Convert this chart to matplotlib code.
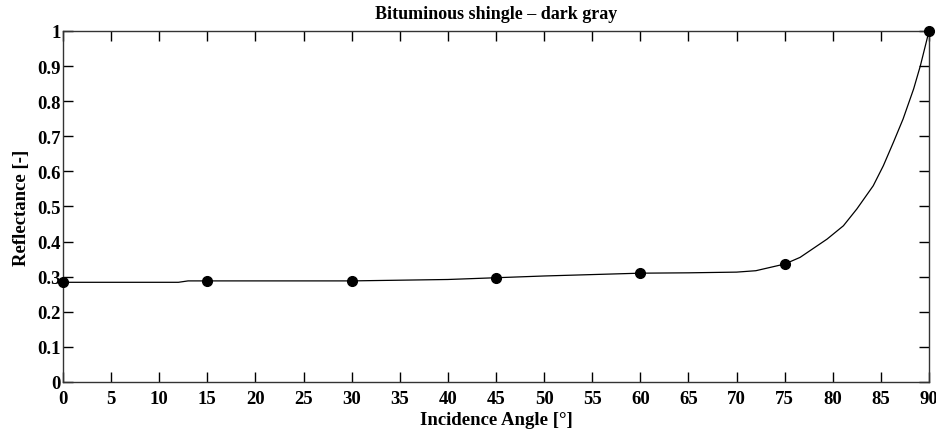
import numpy as np
import matplotlib
matplotlib.use("Agg")
import matplotlib.pyplot as plt

# measured points
angle = [0, 15, 30, 45, 60, 75, 90]
refl = [0.284, 0.288, 0.288, 0.297, 0.310, 0.336, 1.0]

# fitted curve
curve_angle = [0, 12, 13, 30, 35, 40, 45, 50, 55, 60, 65, 70, 72, 75,
               76.6, 79.4, 81.1, 82.5, 84.2, 85.25, 86.3, 87.3, 88.4, 89.1, 90]
curve_refl = [0.284, 0.284, 0.288, 0.288, 0.290, 0.292, 0.297, 0.302, 0.306, 0.310,
              0.311, 0.313, 0.317, 0.336,
              0.355, 0.407, 0.445, 0.493, 0.559, 0.616, 0.683, 0.749, 0.835, 0.901, 1.0]

xticks = np.arange(0, 91, 5)
yticks = np.arange(0, 1.01, 0.1)
ylabels = ['0', '0.1', '0.2', '0.3', '0.4', '0.5', '0.6', '0.7', '0.8', '0.9', '1']

plt.rcParams['font.family'] = 'Liberation Serif'
plt.rcParams['font.weight'] = 'bold'

fig = plt.figure(figsize=(9.37, 4.31), dpi=100)
ax = fig.add_axes([0.0672, 0.1114, 0.9243, 0.8144])

ax.plot(curve_angle, curve_refl, '-', color='black', lw=0.9, clip_on=False)
ax.plot(angle, refl, 'o', color='black', ms=7, clip_on=False, zorder=5)

ax.set_xlim(0, 90)
ax.set_ylim(0, 1)
ax.set_xticks(xticks)
ax.set_yticks(yticks)
ax.set_yticklabels(ylabels)
ax.tick_params(direction='in', length=7, width=1, top=True, right=True,
               labelsize=13.5)
ax.tick_params(axis='x', pad=5.5)
ax.tick_params(axis='y', pad=1.5)
for lab in ax.get_xticklabels() + ax.get_yticklabels():
    lab.set_fontweight('bold')
for s in ax.spines.values():
    s.set_linewidth(1.0)
    s.set_color('#333333')

ax.set_title('Bituminous shingle \u2013 dark gray', fontsize=13, fontweight='bold', pad=9)
ax.set_xlabel('Incidence Angle [\u00b0]', fontsize=13.5, fontweight='bold', labelpad=3)
ax.set_ylabel('Reflectance [-]', fontsize=13.5, fontweight='bold', labelpad=5)

fig.savefig('out.png', dpi=100)
